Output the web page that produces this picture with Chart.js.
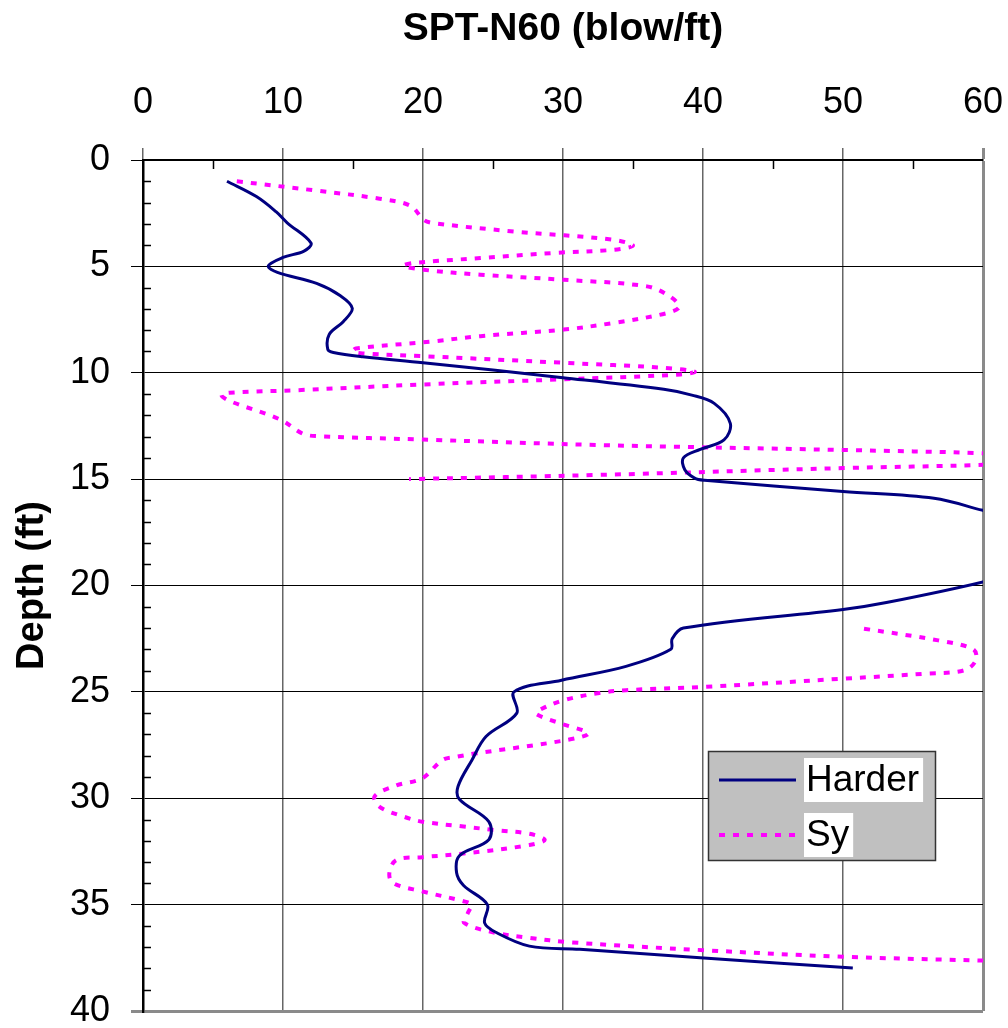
<!DOCTYPE html>
<html>
<head>
<meta charset="utf-8">
<script src="https://cdn.jsdelivr.net/npm/chart.js@4.4.0/dist/chart.umd.min.js"></script>
<style>
  html, body { margin: 0; padding: 0; background: #fff; }
</style>
</head>
<body>
<canvas id="spt" width="1008" height="1028"></canvas>
<script>
// SPT-N60 readings (blow/ft) against depth (ft)
const hardN = [6.0, 8.1, 9.5, 10.3, 12.0, 11.5, 10.0, 8.95, 9.6, 12.4, 14.1, 14.95, 14.3, 13.3, 13.2, 13.6, 15.7, 20.0,
    30.0, 37.2, 39.2, 40.8, 41.95, 41.5, 39.8, 38.6, 38.7, 39.4, 40.1, 50.0, 56.5, 60.0, 70.0, 60.0, 53.1, 50.0,
    38.6, 37.8, 37.7, 34.5, 29.9, 26.5, 26.7, 24.5, 23.5, 22.5, 22.6, 24.7, 24.7, 22.6, 22.4, 22.9, 24.6, 24.4,
    25.2, 27.6, 31.2, 39.8, 50.7];
const hardDepth = [1.0, 1.72, 2.43, 2.95, 3.9, 4.28, 4.58, 4.98, 5.28, 5.8, 6.38, 6.97, 7.6, 8.2, 8.9, 9.05, 9.25, 9.53,
    10.23, 10.78, 11.05, 11.44, 12.38, 13.16, 13.6, 14.0, 14.56, 14.95, 15.05, 15.58, 15.9, 16.47, 18.1, 19.83, 20.8, 21.13,
    22.0, 22.5, 23.0, 23.8, 24.45, 25.0, 26.0, 27.1, 28.2, 29.45, 30.05, 31.1, 31.95, 32.7, 33.5, 34.1, 35.0, 35.86,
    36.3, 36.95, 37.1, 37.5, 37.98];

const syN = [6.7, 12.4, 16.9, 19.1, 20.05, 20.8, 26.5, 33.6, 35.0, 33.6, 29.3, 24.1, 19.3, 18.6, 20.05, 24.1, 30.05,
    36.0, 37.6, 38.3, 37.4, 33.6, 30.05, 24.1, 20.5, 15.2, 15.0, 15.7, 20.0, 30.0, 37.2, 39.4, 38.4, 30.0, 20.0, 11.0,
    6.2, 5.6, 6.2, 9.8, 11.4, 12.4, 20.0, 32.7, 50.0, 60.0, 70.0, 60.0, 50.0, 32.7, 19.0, null,
    51.5, 56.8, 59.3, 59.5, 58.7, 56.0, 50.0, 40.0, 34.5, 32.6, 30.0, 28.3, 28.1, 29.9, 31.8, 30.2, 23.7, 22.4, 21.4,
    19.95, 18.1, 16.55, 16.9, 18.6, 19.95, 22.9, 25.2, 27.6, 28.7, 27.6, 22.9, 19.95, 18.1, 17.6, 17.85, 19.95, 22.9,
    23.45, 23.2, 22.95, 25.2, 27.6, 30.5, 40.0, 50.0, 60.5];
const syDepth = [1.0, 1.44, 1.82, 2.15, 2.81, 2.97, 3.36, 3.75, 4.02, 4.22, 4.37, 4.61, 4.84, 4.97, 5.16, 5.39, 5.63,
    5.94, 6.4, 6.9, 7.2, 7.66, 7.97, 8.28, 8.54, 8.86, 9.0, 9.09, 9.22, 9.53, 9.77, 9.95, 10.08, 10.31, 10.55, 10.82,
    10.94, 11.05, 11.33, 12.2, 12.86, 12.98, 13.14, 13.4, 13.63, 13.78, 14.05, 14.33, 14.48, 14.8, 15.0, null,
    22.03, 22.58, 23.0, 23.5, 23.98, 24.14, 24.38, 24.77, 24.92, 25.05, 25.4, 25.86, 26.05, 26.5, 26.95, 27.27, 27.9, 28.05, 28.2,
    29.06, 29.4, 29.9, 30.4, 30.86, 31.1, 31.33, 31.5, 31.67, 31.95, 32.2, 32.6, 32.77, 32.9, 33.5, 33.98, 34.38, 34.84,
    35.0, 35.4, 35.86, 36.33, 36.56, 36.77, 37.14, 37.45, 37.64];

const seriesNames = ['Harder', 'Sy'];
const xTitle = 'SPT-N60 (blow/ft)';
const yTitle = 'Depth (ft)';

function toPoints(n, d) {
    return n.map(function(v, i) { return { x: v, y: d[i] }; });
}

Chart.defaults.font.family = "'Liberation Sans', Arial, sans-serif";
Chart.defaults.color = '#000';

function noPad(scale) {
    scale.paddingLeft = 0;
    scale.paddingRight = 0;
    scale.paddingTop = 0;
    scale.paddingBottom = 0;
}

// minor ticks: every ft on the depth axis, every 5 on the N axis
const minorTicks = {
    id: 'minorTicks',
    afterDatasetsDraw: function(chart) {
        const ctx = chart.ctx;
        const area = chart.chartArea;
        const xs = chart.scales.x;
        const ys = chart.scales.y;
        ctx.save();
        ctx.strokeStyle = '#000';
        ctx.lineWidth = 1.5;
        ctx.beginPath();
        for (let d = 1; d < 40; d++) {
            if (d % 5 === 0) continue;
            const py = Math.round(ys.getPixelForValue(d)) + 0.5;
            ctx.moveTo(area.left, py);
            ctx.lineTo(area.left + 8, py);
        }
        for (let n = 5; n < 60; n += 10) {
            const px = Math.round(xs.getPixelForValue(n)) + 0.5;
            ctx.moveTo(px, area.top);
            ctx.lineTo(px, area.top + 9);
        }
        ctx.stroke();
        ctx.restore();
    }
};

// Excel style legend box inside the plot
const legendBox = {
    id: 'legendBox',
    afterDraw: function(chart) {
        const ctx = chart.ctx;
        const bx = 708, by = 751, bw = 227, bh = 109;
        ctx.save();
        ctx.fillStyle = '#c0c0c0';
        ctx.fillRect(bx, by, bw, bh);
        ctx.strokeStyle = '#333';
        ctx.lineWidth = 1.5;
        ctx.strokeRect(bx + 0.5, by + 0.5, bw, bh);
        ctx.font = "37px 'Liberation Sans', Arial, sans-serif";
        ctx.textBaseline = 'middle';
        chart.data.datasets.forEach(function(ds, i) {
            const y = by + 29 + i * 55;
            ctx.strokeStyle = ds.borderColor;
            ctx.lineWidth = ds.borderWidth;
            ctx.setLineDash(ds.borderDash || []);
            ctx.beginPath();
            ctx.moveTo(bx + 11, y);
            ctx.lineTo(bx + 88, y);
            ctx.stroke();
            ctx.setLineDash([]);
            const w = ctx.measureText(ds.label).width;
            ctx.fillStyle = '#fff';
            ctx.fillRect(bx + 96, y - 22, w + 6, 44);
            ctx.fillStyle = '#000';
            ctx.fillText(ds.label, bx + 98, y + 1);
        });
        ctx.restore();
    }
};

new Chart(document.getElementById('spt'), {
    type: 'scatter',
    data: {
        datasets: [{
            label: seriesNames[0],
            data: toPoints(hardN, hardDepth),
            showLine: true,
            borderColor: '#000080',
            borderWidth: 3,
            pointRadius: 0,
            tension: 0.35
        }, {
            label: seriesNames[1],
            data: toPoints(syN, syDepth),
            showLine: true,
            borderColor: '#ff00ff',
            borderWidth: 4,
            borderDash: [6, 8],
            pointRadius: 0,
            tension: 0.35
        }]
    },
    options: {
        responsive: false,
        animation: false,
        events: [],
        layout: { autoPadding: false, padding: { left: 0, top: 0, right: 25, bottom: 17 } },
        plugins: {
            legend: { display: false },
            tooltip: { enabled: false }
        },
        scales: {
            x: {
                type: 'linear',
                position: 'top',
                min: 0,
                max: 60,
                afterFit: function(scale) { scale.height = 160; noPad(scale); },
                ticks: { stepSize: 10, padding: 23, font: { size: 36 }, maxRotation: 0 },
                grid: {
                    tickLength: 12,
                    color: function(ctx) { return ctx.tick && ctx.tick.value === 60 ? '#8a8a8a' : '#666'; },
                    lineWidth: function(ctx) { return ctx.tick && ctx.tick.value === 60 ? 3 : 1.5; }
                },
                border: { color: '#000', width: 2 },
                title: { display: true, text: xTitle, font: { size: 39, weight: 'bold' }, padding: { top: 6 } }
            },
            y: {
                type: 'linear',
                reverse: true,
                min: 0,
                max: 40,
                afterFit: function(scale) { scale.width = 143; noPad(scale); },
                ticks: { stepSize: 5, padding: 21, font: { size: 36 } },
                grid: {
                    tickLength: 12,
                    color: function(ctx) { return ctx.tick && ctx.tick.value === 40 ? '#8a8a8a' : '#000'; },
                    lineWidth: function(ctx) { return ctx.tick && ctx.tick.value === 40 ? 3 : 1; }
                },
                border: { color: '#000', width: 2.5 },
                title: { display: true, text: yTitle, font: { size: 38, weight: 'bold' }, padding: { top: 10 } }
            }
        }
    },
    plugins: [minorTicks, legendBox]
});
</script>
</body>
</html>
